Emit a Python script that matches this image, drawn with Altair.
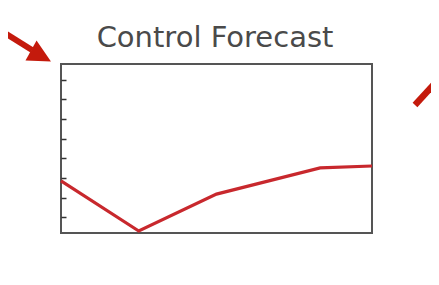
import altair as alt
import pandas as pd

# Data
months = [0, 3, 6, 10, 12]
forecast = [2.85, 0.30, 2.18, 3.51, 3.61]
y_ticks = [1, 2, 3, 4, 5, 6, 7, 8]
title_text = "Control Forecast"

df = pd.DataFrame({"month": months, "value": forecast})

RED = "#c41a0c"

line = alt.Chart(df).mark_line(color="#c8282d", strokeWidth=3.2).encode(
    x=alt.X("month:Q", axis=None, scale=alt.Scale(domain=[0, 12], nice=False, zero=False)),
    y=alt.Y("value:Q",
            scale=alt.Scale(domain=[0.2, 8.8], nice=False, zero=False),
            axis=alt.Axis(values=y_ticks, labels=False, domain=False, grid=False,
                          ticks=True, tickSize=5, tickWidth=1.5, tickColor="#333",
                          offset=-5, title=None)),
)

one = alt.Data(values=[{"a": 1}])

title = alt.Chart(one).mark_text(
    text=title_text, font="DejaVu Sans", fontSize=29, color="#4a4a4a",
    align="center", baseline="alphabetic").encode(
    x=alt.value(154), y=alt.value(-17))

# decorative red arrows (annotation, pixel positions)
shaft1 = alt.Chart(one).mark_rule(color=RED, strokeWidth=6).encode(
    x=alt.value(-66), y=alt.value(-37), x2=alt.value(-29), y2=alt.value(-14))
head1 = alt.Chart(one).mark_point(
    shape="M -1 -1 L 1 0 L -1 1 Z", filled=True, color=RED, opacity=1,
    size=520, angle=29, strokeWidth=0).encode(
    x=alt.value(-20), y=alt.value(-8))
shaft2 = alt.Chart(one).mark_rule(color=RED, strokeWidth=6.5).encode(
    x=alt.value(354), y=alt.value(41), x2=alt.value(386), y2=alt.value(6))

chart = alt.layer(line, title, shaft1, head1, shaft2).properties(
    width=311, height=169,
    padding={"left": 53, "top": 56, "right": 59, "bottom": 44},
    autosize=alt.AutoSizeParams(type="none"),
    background="white",
).configure_view(stroke="#555", strokeWidth=2, fill="white")

chart.save("out.html", embed_options={"renderer": "svg", "actions": False})
